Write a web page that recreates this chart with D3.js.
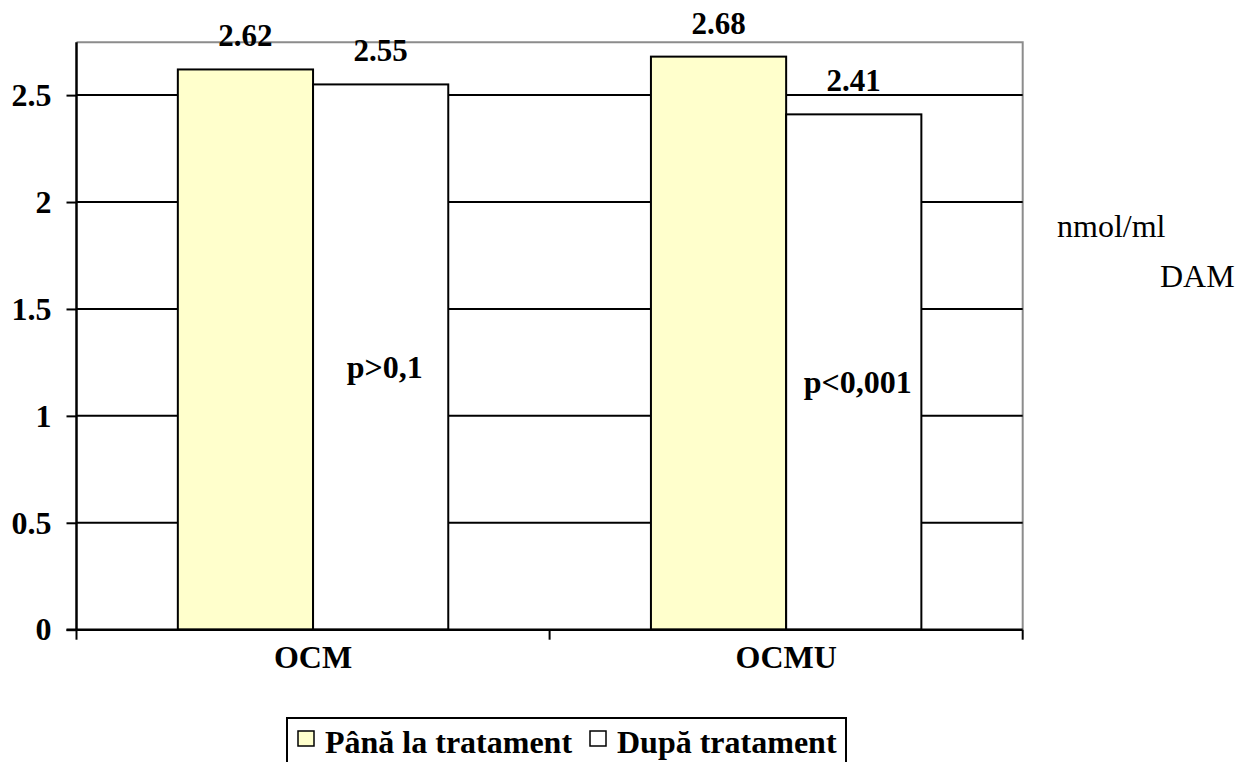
<!DOCTYPE html>
<html><head><meta charset="utf-8">
<script src="https://cdn.jsdelivr.net/npm/d3@7"></script>
<style>body{margin:0;background:#fff}svg{display:block}</style>
</head><body><svg id="c" width="1235" height="762"></svg>
<script>
const categories = ["OCM", "OCMU"];
const seriesNames = ["Până la tratament", "După tratament"];
const beforeValues = [2.62, 2.68];
const afterValues = [2.55, 2.41];
const pLabels = ["p>0,1", "p<0,001"];
const yTicks = [0, 0.5, 1, 1.5, 2, 2.5];
const seriesColors = ["#FFFFCC", "#FFFFFF"];
const unitLabel = "nmol/ml";
const seriesTitle = "DAM";

const FONT = "'Liberation Serif', 'Times New Roman', Times, serif";
const svg = d3.select("#c");
const L = 76.5, R = 1022.7, T = 42.3, B = 629.7;
const y = d3.scaleLinear().domain([0, 2.747]).range([B, T]);
const x0 = d3.scaleBand().domain(categories).range([L, R]).paddingInner(0).paddingOuter(0);
const bw = x0.bandwidth();
const x1 = d3.scaleBand().domain(seriesNames).range([bw * 0.2142, bw * 0.7858]).padding(0);

svg.append("path").attr("d", `M${L},${T}H${R}V${B}`).attr("fill", "none").attr("stroke", "#8c8c8c").attr("stroke-width", 2);

svg.append("g").selectAll("line").data(yTicks.filter(d => d > 0)).join("line")
  .attr("x1", L).attr("x2", R).attr("y1", d => y(d)).attr("y2", d => y(d))
  .attr("stroke", "#000").attr("stroke-width", 2);

const data = categories.map((c, i) => ({c, vals: [beforeValues[i], afterValues[i]], p: pLabels[i]}));

const g = svg.append("g").selectAll("g").data(data).join("g").attr("transform", d => `translate(${x0(d.c)},0)`);
g.selectAll("rect").data(d => d.vals.map((v, j) => ({v, s: seriesNames[j], j}))).join("rect")
  .attr("x", d => x1(d.s)).attr("width", x1.bandwidth())
  .attr("y", d => y(d.v)).attr("height", d => B - y(d.v))
  .attr("fill", d => seriesColors[d.j]).attr("stroke", "#000").attr("stroke-width", 2);
g.selectAll("text.v").data(d => d.vals.map((v, j) => ({v, s: seriesNames[j]}))).join("text")
  .attr("class", "v").attr("x", d => x1(d.s) + x1.bandwidth() / 2).attr("y", d => y(d.v) - 23)
  .attr("text-anchor", "middle").attr("font-weight", "bold").attr("data-fs", 31).text(d => d.v.toFixed(2));
g.append("text").attr("x", d => x1(seriesNames[1]) + x1.bandwidth() / 2 + 4)
  .attr("y", d => (y(d.vals[1]) + B) / 2 + 21)
  .attr("text-anchor", "middle").attr("font-weight", "bold").text(d => d.p);

const ya = svg.append("g").attr("transform", `translate(${L},0)`)
  .call(d3.axisLeft(y).tickValues(yTicks).tickSize(10).tickPadding(15).tickFormat(d => String(d)));
ya.attr("font-family", null).attr("font-size", null);
ya.select(".domain").attr("d", `M0,${T}V${B}`).attr("stroke", "#000").attr("stroke-width", 2.5);
ya.selectAll(".tick line").attr("stroke", "#000").attr("stroke-width", 2);
ya.selectAll(".tick text").attr("font-weight", "bold").attr("fill", "#000");

const xa = svg.append("g").attr("transform", `translate(0,${B})`);
xa.append("line").attr("x1", L - 10).attr("x2", R).attr("stroke", "#000").attr("stroke-width", 2.5);
const xt = [L, ...categories.slice(1).map(c => x0(c)), R];
xa.selectAll("line.t").data(xt).join("line").attr("class", "t").attr("x1", d => d).attr("x2", d => d).attr("y1", 0).attr("y2", 10).attr("stroke", "#000").attr("stroke-width", 2);
xa.selectAll("text").data(categories).join("text")
  .attr("x", d => x0(d) + bw / 2).attr("y", 38).attr("text-anchor", "middle")
  .attr("font-weight", "bold").text(d => d);

svg.append("text").attr("x", 1057).attr("y", 237).text(unitLabel);
svg.append("text").attr("x", 1160).attr("y", 287).text(seriesTitle);

const lg = svg.append("g");
lg.append("rect").attr("x", 287).attr("y", 718).attr("width", 559).attr("height", 60).attr("fill", "#fff").attr("stroke", "#000").attr("stroke-width", 2);
const lx = [298, 590];
seriesNames.forEach((s, i) => {
  lg.append("rect").attr("x", lx[i]).attr("y", 731).attr("width", 16).attr("height", 15).attr("fill", seriesColors[i]).attr("stroke", "#000").attr("stroke-width", 1.5);
  lg.append("text").attr("x", lx[i] + 27).attr("y", 753).attr("font-weight", "bold").text(s);
});

svg.selectAll("text").style("font-family", FONT).style("font-size", function() {
  const f = this.getAttribute("data-fs");
  return (f ? f : 32) + "px";
});
</script></body></html>
